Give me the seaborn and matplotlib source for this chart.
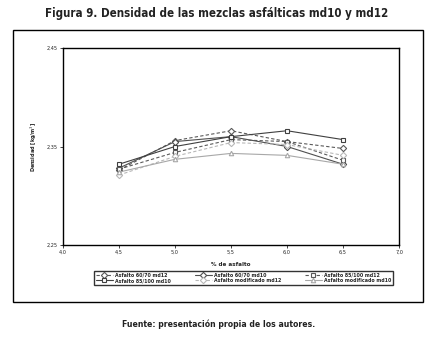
import matplotlib
matplotlib.use("Agg")
import matplotlib.pyplot as plt
import matplotlib.patches as patches
import pandas as pd
import seaborn as sns

asfalto = [4.5, 5.0, 5.5, 6.0, 6.5]
a6070_md12 = [2.326, 2.356, 2.366, 2.355, 2.348]
a6070_md10 = [2.328, 2.355, 2.360, 2.350, 2.332]
a85100_md12 = [2.327, 2.344, 2.357, 2.355, 2.336]
a85100_md10 = [2.332, 2.350, 2.360, 2.366, 2.357]
amod_md12 = [2.321, 2.340, 2.354, 2.352, 2.341]
amod_md10 = [2.324, 2.337, 2.343, 2.341, 2.332]

series = {
    "Asfalto 60/70 md12": a6070_md12,
    "Asfalto 60/70 md10": a6070_md10,
    "Asfalto 85/100 md12": a85100_md12,
    "Asfalto 85/100 md10": a85100_md10,
    "Asfalto modificado md12": amod_md12,
    "Asfalto modificado md10": amod_md10,
}
# color, linestyle, marker
estilos = {
    "Asfalto 60/70 md12": ("#5a5a5a", (0, (3, 2)), "D"),
    "Asfalto 60/70 md10": ("#505050", "-", "D"),
    "Asfalto 85/100 md12": ("#5a5a5a", (0, (3, 2)), "s"),
    "Asfalto 85/100 md10": ("#404040", "-", "s"),
    "Asfalto modificado md12": ("#b8b8b8", (0, (3, 2)), "D"),
    "Asfalto modificado md10": ("#a8a8a8", "-", "^"),
}

df = pd.DataFrame(
    [(k, x, y) for k, v in series.items() for x, y in zip(asfalto, v)],
    columns=["serie", "asfalto", "densidad"],
)

sns.set_style("white")
plt.rcParams["font.family"] = ["DejaVu Sans"]
plt.rcParams["font.stretch"] = "condensed"

fig = plt.figure(figsize=(4.34, 3.37), dpi=100)
ax = fig.add_axes([63 / 434, 1 - 245 / 337, 336 / 434, 197 / 337])

for nombre in series:
    c, ls, mk = estilos[nombre]
    sns.lineplot(data=df[df.serie == nombre], x="asfalto", y="densidad", ax=ax,
                 color=c, linestyle=ls, marker=mk, markersize=3.2,
                 markerfacecolor="white", markeredgecolor=c, markeredgewidth=0.8,
                 linewidth=0.8, label=nombre, legend=False)

ax.set_xlim(4.0, 7.0)
ax.set_ylim(2.25, 2.45)
ax.set_xticks([4.0, 4.5, 5.0, 5.5, 6.0, 6.5, 7.0])
ax.set_xticklabels(["4,0", "4,5", "5,0", "5,5", "6,0", "6,5", "7,0"])
ax.set_yticks([2.25, 2.35, 2.45])
ax.set_yticklabels(["2,25", "2,35", "2,45"])
ax.tick_params(labelsize=4, length=2, width=0.6, direction="out", pad=1.5,
               bottom=True, left=True, labelcolor="#222222")
for s in ax.spines.values():
    s.set_color("black")
    s.set_linewidth(1.0)
ax.set_xlabel("% de asfalto", fontsize=4.5, fontweight="bold", labelpad=5)
ax.set_ylabel("Densidad [kg/m$^3$]", fontsize=4, fontweight="bold", labelpad=6)

orden = ["Asfalto 60/70 md12", "Asfalto 85/100 md10", "Asfalto 60/70 md10",
         "Asfalto modificado md12", "Asfalto 85/100 md12", "Asfalto modificado md10"]
h, l = ax.get_legend_handles_labels()
d = dict(zip(l, h))
leg = fig.legend([d[k] for k in orden], orden, ncol=3, loc="center",
                 bbox_to_anchor=(243.5 / 434, 1 - 278 / 337), fontsize=3.8,
                 frameon=True, fancybox=False, handlelength=3.2,
                 columnspacing=4.5, borderpad=0.3, labelspacing=0.1,
                 handletextpad=0.4)
leg.get_frame().set_edgecolor("black")
leg.get_frame().set_linewidth(1.0)
for t in leg.get_texts():
    t.set_fontweight("bold")

fig.patches.append(patches.Rectangle((13 / 434, 1 - 302 / 337), 410 / 434, 272 / 337,
                                     transform=fig.transFigure, fill=False,
                                     edgecolor="black", linewidth=1.0))

fig.text(0.5, 1 - 14 / 337, "Figura 9. Densidad de las mezclas asfálticas md10 y md12",
         ha="center", va="center", fontsize=8.3, fontweight="bold", color="#222222")
fig.text(219 / 434, 1 - 324 / 337, "Fuente: presentación propia de los autores.",
         ha="center", va="center", fontsize=6.2, fontweight="bold", color="#222222")

fig.savefig("out.png", dpi=100)
